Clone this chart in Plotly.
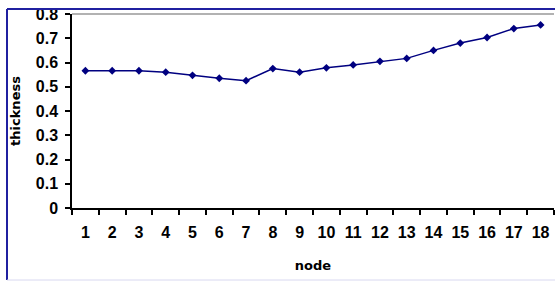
import plotly.graph_objects as go

nodes = list(range(1, 19))
thickness = [0.566, 0.566, 0.566, 0.56, 0.547, 0.535, 0.525, 0.575, 0.56, 0.578,
             0.59, 0.605, 0.617, 0.65, 0.68, 0.703, 0.74, 0.755]
y_ticks = [0, 0.1, 0.2, 0.3, 0.4, 0.5, 0.6, 0.7, 0.8]

fig = go.Figure()
fig.add_trace(go.Scatter(
    x=nodes, y=thickness, mode="lines+markers",
    line=dict(color="#000080", width=1.5),
    marker=dict(symbol="diamond", size=6, color="#000080"),
    showlegend=False,
))

tick_font = dict(family="Liberation Sans, Arial, sans-serif", size=16, color="black", weight="bold")
title_font = dict(family="DejaVu Sans, sans-serif", size=13, color="black")

W, H = 555, 281
L, R, T, B = 72, 1, 14, 73
pw, ph = W - L - R, H - T - B

fig.update_layout(
    width=W, height=H,
    margin=dict(l=L, r=R, t=T, b=B),
    paper_bgcolor="white", plot_bgcolor="white",
    xaxis=dict(
        range=[0.5, 18.5], tickmode="array", tickvals=nodes,
        ticktext=[str(n) for n in nodes], tickfont=tick_font,
        ticks="", showgrid=False, zeroline=False, automargin=False,
        showline=True, linecolor="black", linewidth=1.5,
        ticklabelstandoff=9,
        minor=dict(tickmode="linear", tick0=0.5, dtick=1, ticks="outside",
                   ticklen=5, tickcolor="black", tickwidth=1.5, showgrid=False),
        title=dict(text="<b>node</b>", font=title_font, standoff=21),
    ),
    yaxis=dict(
        range=[0, 0.8], tickmode="array", tickvals=y_ticks,
        ticktext=["0" if v == 0 else f"{v:.1f}" for v in y_ticks], tickfont=tick_font,
        ticks="outside", ticklen=5, tickcolor="black", tickwidth=1.5,
        showgrid=False, zeroline=False, automargin=False,
        showline=True, linecolor="black", linewidth=1.5,
        ticklabelstandoff=4,
        title=dict(text="<b>thickness</b>", font=title_font, standoff=12),
    ),
    shapes=[
        dict(type="line", xref="paper", yref="paper", x0=0, x1=1, y0=1, y1=1,
             line=dict(color="#999999", width=1.5)),
        dict(type="line", xref="paper", yref="paper",
             x0=-(L - 7) / pw, x1=-(L - 7) / pw, y0=-(B - 1) / ph, y1=1 + 5 / ph,
             line=dict(color="#2020a0", width=2)),
        dict(type="line", xref="paper", yref="paper",
             x0=-(L - 7) / pw, x1=1 + R / pw, y0=1 + 5 / ph, y1=1 + 5 / ph,
             line=dict(color="#2020a0", width=2)),
        dict(type="line", xref="paper", yref="paper",
             x0=-(L - 7) / pw, x1=1 + R / pw, y0=-(B - 1) / ph, y1=-(B - 1) / ph,
             line=dict(color="#d8d8f0", width=1)),
    ],
)

fig.write_html("out.html", config={"displayModeBar": False},
               post_script="document.body.style.margin='0';")
